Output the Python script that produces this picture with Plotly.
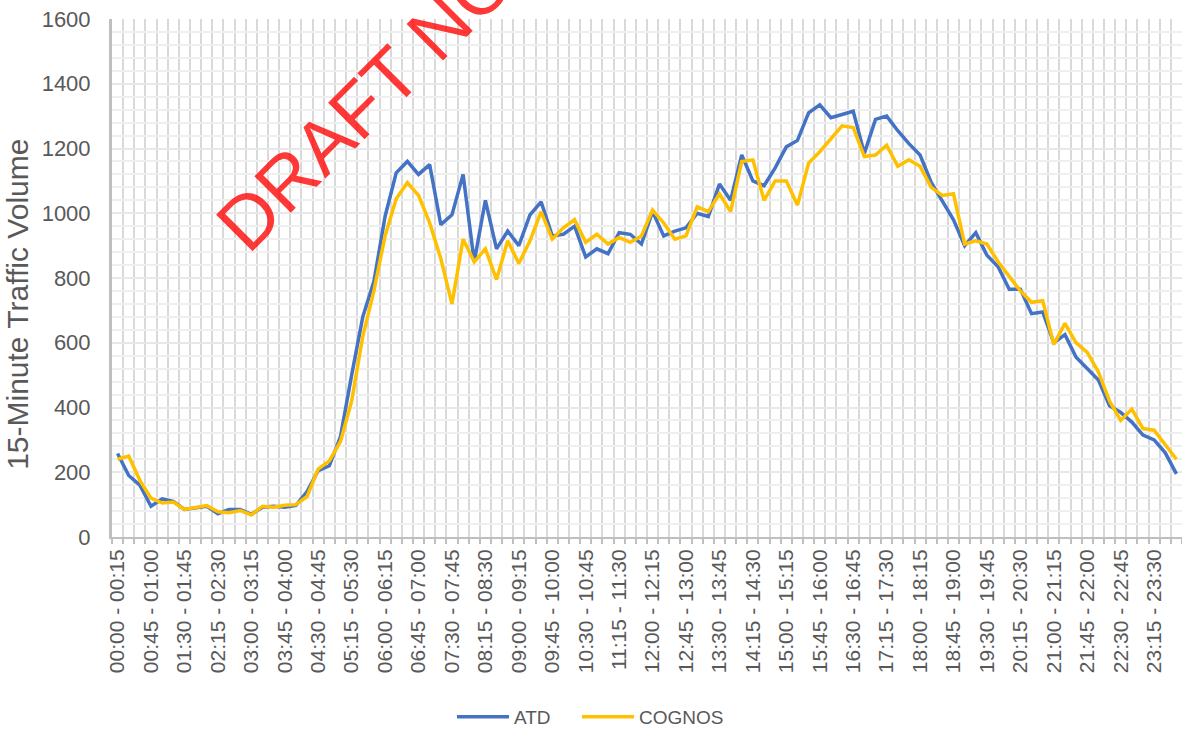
import plotly.graph_objects as go

# 15-minute interval start times
starts = [f"{h:02d}:{m:02d}" for h in range(24) for m in (0, 15, 30, 45)]
ends = starts[1:] + ["24:00"]
categories = [f"{s} - {e}" for s, e in zip(starts, ends)]

atd = [258, 190, 160, 95, 118, 110, 85, 90, 95, 72, 85, 85,
       70, 92, 95, 92, 98, 140, 205, 220, 310, 500, 680, 790,
       990, 1125, 1160, 1120, 1150, 965, 995, 1120, 850, 1040, 890, 945,
       900, 995, 1035, 930, 935, 960, 865, 890, 875, 940, 935, 905,
       1005, 930, 945, 955, 1000, 990, 1090, 1040, 1180, 1100, 1085, 1140,
       1205, 1225, 1310, 1335, 1295, 1305, 1315, 1185, 1290, 1300, 1255, 1215,
       1180, 1095, 1040, 980, 900, 940, 870, 835, 765, 765, 690, 695,
       600, 625, 555, 520, 485, 405, 385, 355, 315, 300, 260, 195]

cognos = [240, 250, 175, 120, 105, 108, 85, 90, 97, 78, 75, 82,
          68, 95, 92, 98, 100, 125, 210, 235, 295, 420, 620, 760,
          930, 1045, 1095, 1055, 970, 860, 720, 920, 850, 890, 795, 915,
          845, 915, 1005, 920, 955, 980, 910, 935, 905, 925, 910, 930,
          1010, 970, 920, 930, 1020, 1005, 1060, 1005, 1160, 1165, 1040, 1100,
          1100, 1025, 1155, 1190, 1230, 1270, 1265, 1175, 1180, 1210, 1145, 1165,
          1145, 1080, 1055, 1060, 905, 915, 905, 850, 805, 760, 725, 730,
          595, 660, 600, 570, 510, 420, 360, 395, 335, 330, 285, 240]

series_names = ["ATD", "COGNOS"]
series_colors = ["#4472C4", "#FFC000"]
legend_ids = ["legend", "legend2"]

x_idx = list(range(len(categories)))
tick_idx = x_idx[::3]
tick_text = [categories[i] for i in tick_idx]

FONT = "Liberation Sans"
GREY = "#595959"

fig = go.Figure()
for name, vals, col, lg in zip(series_names, [atd, cognos], series_colors, legend_ids):
    fig.add_trace(go.Scatter(
        x=x_idx, y=vals, mode="lines", name=name, legend=lg,
        line=dict(color=col, width=3.5),
        customdata=categories,
        hovertemplate="%{customdata}: %{y}<extra>" + name + "</extra>",
    ))

# watermark
fig.add_annotation(
    text="DRAFT NO", xref="paper", yref="paper", x=0.2364, y=0.8398,
    xanchor="center", yanchor="middle", textangle=-45, showarrow=False,
    font=dict(family=FONT, size=75, color="rgba(255,0,0,0.78)"),
)

# y-axis title
fig.add_annotation(
    text="15-Minute Traffic Volume", xref="paper", yref="paper",
    x=-0.0879, y=0.45, xanchor="center", yanchor="middle", textangle=-90,
    showarrow=False, font=dict(family=FONT, size=30, color=GREY),
)

legend_common = dict(
    orientation="h", xref="container", yref="container",
    y=0.018, xanchor="left", yanchor="middle",
    font=dict(family=FONT, size=19, color=GREY),
    itemwidth=52, tracegroupgap=0, bgcolor="rgba(0,0,0,0)",
)

fig.update_layout(
    width=1182, height=730,
    margin=dict(l=112, r=0, t=19, b=193, autoexpand=False),
    paper_bgcolor="white", plot_bgcolor="white",
    font=dict(family=FONT, color=GREY),
    showlegend=True,
    legend=dict(x=0.3824, **legend_common),
    legend2=dict(x=0.4882, **legend_common),
    xaxis=dict(
        range=[-0.5, len(categories) - 0.5], automargin=False,
        tickmode="array", tickvals=tick_idx, ticktext=tick_text,
        tickangle=-90, ticks="", showgrid=False,
        tickfont=dict(family=FONT, size=21, color=GREY),
        ticklabelstandoff=2,
        showline=True, linecolor="#bfbfbf", linewidth=2,
        zeroline=False,
        minor=dict(tick0=-0.5, dtick=1, showgrid=True, gridcolor="#d9d9d9",
                   gridwidth=2, ticks="outside", ticklen=5, tickcolor="#bfbfbf",
                   tickwidth=1.5),
    ),
    yaxis=dict(
        range=[0, 1600], dtick=200, tick0=0, automargin=False,
        showgrid=True, gridcolor="#e8e8e8", gridwidth=1.5,
        tickfont=dict(family=FONT, size=22, color=GREY),
        ticklabelstandoff=14,
        showline=True, linecolor="#bfbfbf", linewidth=3,
        zeroline=False, ticks="",
        minor=dict(dtick=40, showgrid=True, gridcolor="#efefef", gridwidth=1.5),
    ),
)

fig.write_html("out.html", config={"displayModeBar": False},
               post_script="document.body.style.margin='0px';")
